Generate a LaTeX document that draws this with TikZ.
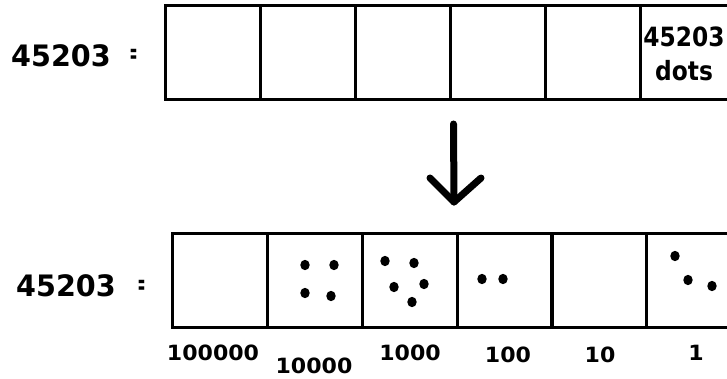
\documentclass[tikz,border=0pt]{standalone}
\usepackage{fontspec}
\usepackage{graphicx}
\setmainfont{DejaVu Sans}
\begin{document}
\begin{tikzpicture}[x=1pt,y=-1pt,
  cell/.style={draw=black,line width=3pt,inner sep=0pt,minimum width=95pt,minimum height=94pt},
  bignum/.style={inner sep=0pt,anchor=base west,font=\fontsize{29.5}{32}\selectfont\bfseries},
  eqsign/.style={inner sep=0pt,anchor=base,font=\fontsize{29.5}{32}\selectfont\bfseries},
  placelabel/.style={inner sep=0pt,anchor=base,font=\fontsize{21}{24}\selectfont\bfseries},
  celltext/.style={inner sep=0pt,anchor=base,font=\fontsize{26.5}{30}\selectfont\bfseries},
  dot/.style={fill=black},
  bigarrow/.style={line width=7pt,line cap=round,line join=round}]
\path[clip,use as bounding box] (0,0) rectangle (727,379);
\fill[white] (0,0) rectangle (727,379);

% upper row: the number as one heap of dots
\node[bignum] (ltop) at (11,67) {\scalebox{0.97}[1]{45203}};
\node[eqsign] (eqtop) at (133.5,64) {\scalebox{0.3}[1]{=}};
\node[cell,minimum width=95.5pt] (t1) at (212.75,53) {};
\node[cell] (t2) at (308,53) {};
\node[cell] (t3) at (402.75,53) {};
\node[cell] (t4) at (497.5,53) {};
\node[cell] (t5) at (592.5,53) {};
\node[cell] (t6) at (687.5,53) {};
\node[celltext] (heap) at (684,47) {\scalebox{0.88}[1]{45203}};
\node[celltext] (heapword) at (684,81) {\scalebox{0.88}[1]{dots}};

% arrow between the rows
\coordinate (arrtop) at (453.5,124);
\coordinate (arrtip) at (454,202);
\coordinate (armL) at (430,178);
\coordinate (armR) at (481,178);
\draw[bigarrow] (arrtop) -- (arrtip);
\draw[bigarrow] (armL) -- (arrtip) -- (armR);

% lower row: dots regrouped by place value
\node[bignum] (lbot) at (16,296) {\scalebox{0.97}[1]{45203}};
\node[eqsign] (eqbot) at (141.5,294) {\scalebox{0.3}[1]{=}};
\node[cell] (b1) at (220.25,280) {};
\node[cell] (b2) at (315.25,280) {};
\node[cell] (b3) at (410,280) {};
\node[cell] (b4) at (504.5,280) {};
\node[cell] (b5) at (598.75,280) {};
\node[cell] (b6) at (693.5,280) {};

% ten-thousands: 4
\foreach \p in {(305,265),(334,265),(305,293),(331,296)}
  \fill[dot] \p ellipse (4.7 and 5.2);
% thousands: 5
\foreach \p in {(385,261),(414,263),(394,287),(424,284),(412,302)}
  \fill[dot] \p ellipse (4.7 and 5.2);
% hundreds: 2
\foreach \p in {(482,279),(503,279)}
  \fill[dot] \p ellipse (4.7 and 5.2);
% ones: 3
\foreach \p in {(675,256),(688,280),(712,286)}
  \fill[dot] \p ellipse (4.7 and 5.2);

% place values under the lower row
\node[placelabel] (v1) at (213,360) {\scalebox{1.05}[1]{100000}};
\node[placelabel] (v2) at (314,373) {\scalebox{1.05}[1]{10000}};
\node[placelabel] (v3) at (410,360) {\scalebox{1.05}[1]{1000}};
\node[placelabel] (v4) at (508,362) {\scalebox{1.05}[1]{100}};
\node[placelabel] (v5) at (600,362) {\scalebox{1.05}[1]{10}};
\node[placelabel] (v6) at (696,360) {\scalebox{1.05}[1]{1}};
\end{tikzpicture}
\end{document}
